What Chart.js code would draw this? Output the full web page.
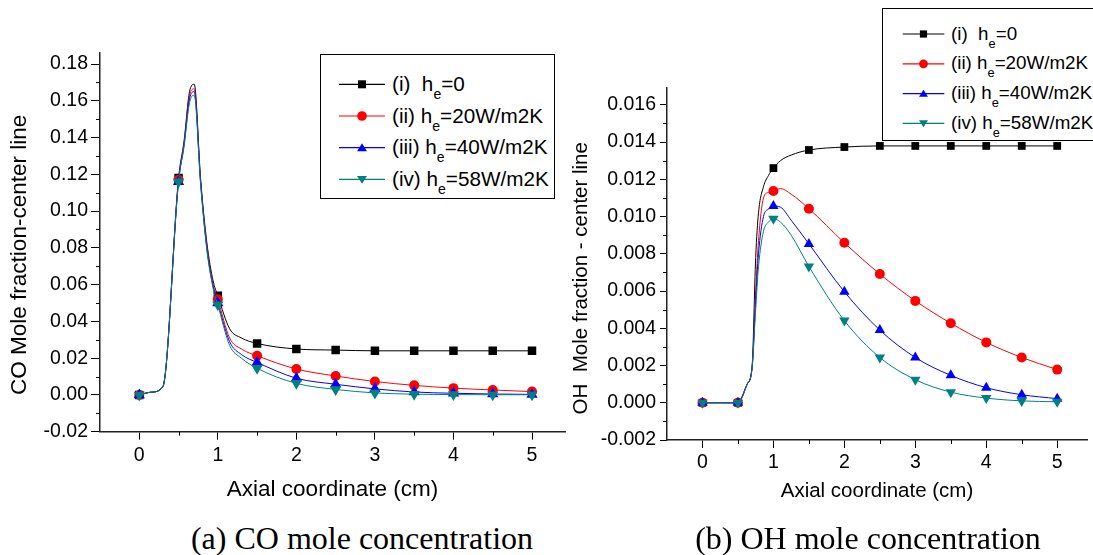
<!DOCTYPE html>
<html>
<head>
<meta charset="utf-8">
<script src="https://cdn.jsdelivr.net/npm/chart.js@4/dist/chart.umd.min.js"></script>
<style>
body { margin: 0; width: 1093px; height: 555px; background: #fff; position: relative; overflow: hidden; font-family: "Liberation Sans", Arial, sans-serif; }
.box { position: absolute; }
.legend { position: absolute; background: #fff; border: 1px solid #000; z-index: 5; }
.legend .row { position: absolute; left: 0; white-space: nowrap; color: #000; }
.legend svg { position: absolute; left: 0; top: 0; overflow: visible; }
.legend .sub { position: relative; top: 8px; font-size: 0.68em; }
.caption { position: absolute; width: 420px; text-align: center; font-family: "Liberation Serif", "Times New Roman", serif; font-size: 32px; line-height: 32px; color: #000; }
</style>
</head>
<body>
<div class="box" style="left:0;top:0;width:580px;height:510px"><canvas id="chartCO"></canvas></div>
<div class="box" style="left:560px;top:0;width:533px;height:510px"><canvas id="chartOH"></canvas></div>
<div class="legend" id="legendCO" style="left:320px;top:54px;width:233px;height:143px"></div>
<div class="legend" id="legendOH" style="left:882px;top:8px;width:230px;height:131px"></div>
<div class="caption" style="left:152px;top:522px">(a) CO mole concentration</div>
<div class="caption" style="left:658px;top:522px">(b) OH mole concentration</div>
<script>
// axial positions; markers sit on every 0.5 cm
var coX   = [0, 0.15, 0.3, 0.5, 0.57, 0.64, 0.7, 0.78, 0.86, 0.94, 1, 1.15, 1.3, 1.5, 2, 2.5, 3, 3.5, 4, 4.5, 5];
var coI   = [0, 0.0015, 0.0045, 0.118, 0.138, 0.165, 0.169, 0.118, 0.083, 0.062, 0.054, 0.036, 0.031, 0.028, 0.025, 0.0244, 0.024, 0.024, 0.024, 0.024, 0.024];
var coII  = [0, 0.0015, 0.0045, 0.117, 0.137, 0.163, 0.1665, 0.117, 0.081, 0.060, 0.052, 0.031, 0.025, 0.0213, 0.0141, 0.0103, 0.0073, 0.0052, 0.0037, 0.0027, 0.0018];
var coIII = [0, 0.0015, 0.0045, 0.116, 0.136, 0.161, 0.165, 0.116, 0.080, 0.059, 0.050, 0.029, 0.022, 0.0177, 0.0091, 0.0058, 0.0033, 0.0016, 0.0009, 0.0005, 0.0003];
var coIV  = [0, 0.0015, 0.0045, 0.116, 0.135, 0.159, 0.163, 0.115, 0.079, 0.058, 0.049, 0.027, 0.020, 0.0145, 0.0063, 0.0030, 0.0011, 0.0004, 0.0002, 0.0001, 0.0001];

// panel (b)
var ohX   = [0, 0.5, 0.63, 0.7, 0.75, 0.79, 0.86, 0.93, 1, 1.1, 1.25, 1.5, 2, 2.5, 3, 3.5, 4, 4.5, 5];
var ohI   = [0, 0, 0.001, 0.002, 0.0078, 0.0102, 0.0116, 0.0122, 0.0126, 0.0130, 0.0133, 0.01357, 0.01373, 0.01379, 0.01379, 0.01379, 0.01379, 0.01379, 0.01379];
var ohII  = [0, 0, 0.001, 0.0019, 0.0060, 0.0087, 0.0110, 0.0113, 0.01137, 0.0115, 0.0112, 0.01042, 0.00859, 0.00691, 0.00547, 0.00427, 0.00324, 0.00243, 0.00178];
var ohIII = [0, 0, 0.001, 0.0019, 0.0055, 0.0080, 0.0100, 0.0104, 0.01056, 0.0105, 0.0098, 0.00853, 0.00596, 0.0039, 0.00243, 0.00147, 0.00081, 0.00043, 0.00022];
var ohIV  = [0, 0, 0.001, 0.0019, 0.0050, 0.0073, 0.0092, 0.0097, 0.00988, 0.0097, 0.0090, 0.00732, 0.00441, 0.00243, 0.00124, 0.00057, 0.00025, 0.0001, 0.00005];

var xTicks    = [0, 1, 2, 3, 4, 5];
var coYTicks  = [-0.02, 0, 0.02, 0.04, 0.06, 0.08, 0.10, 0.12, 0.14, 0.16, 0.18];
var ohYTicks  = [-0.002, 0, 0.002, 0.004, 0.006, 0.008, 0.010, 0.012, 0.014, 0.016];

var seriesNames  = ['(i)&nbsp;&nbsp;h', '(ii) h', '(iii) h', '(iv) h'];
var seriesValues = ['=0', '=20W/m2K', '=40W/m2K', '=58W/m2K'];
var seriesColors = ['#000000', '#ff0000', '#0000ff', '#008080'];
var seriesMarkers = ['rect', 'circle', 'triangle', 'triangleDown'];

var FONT = '"Liberation Sans", Arial, sans-serif';

function midpoints(list) {
	var out = [];
	for (var i = 0; i < list.length - 1; i++) out.push((list[i] + list[i + 1]) / 2);
	return out;
}

function isMarker(x) {
	return Math.abs(x * 2 - Math.round(x * 2)) < 1e-6;
}

// Origin style minor ticks, drawn through the chart's own scales
var minorTicks = {
	id: 'minorTicks',
	afterDraw: function(chart, args, opts) {
		var ctx = chart.ctx, xs = chart.scales.x, ys = chart.scales.y;
		ctx.save();
		ctx.strokeStyle = '#000';
		ctx.lineWidth = 1;
		ctx.beginPath();
		opts.x.forEach(function(v) {
			var px = Math.round(xs.getPixelForValue(v)) + 0.5;
			ctx.moveTo(px, xs.top);
			ctx.lineTo(px, xs.top + opts.len);
		});
		opts.y.forEach(function(v) {
			var py = Math.round(ys.getPixelForValue(v)) + 0.5;
			ctx.moveTo(ys.right, py);
			ctx.lineTo(ys.right - opts.len, py);
		});
		ctx.stroke();
		ctx.restore();
	}
};

function buildDatasets(xs, seriesList, sizes) {
	return seriesList.map(function(ys, i) {
		var down = seriesMarkers[i] === 'triangleDown';
		return {
			data: xs.map(function(x, j) { return {x: x, y: ys[j]}; }),
			borderColor: seriesColors[i],
			backgroundColor: seriesColors[i],
			borderWidth: 1,
			pointStyle: down ? 'triangle' : seriesMarkers[i],
			pointRotation: down ? 180 : 0,
			pointRadius: function(ctx) { return ctx.raw && isMarker(ctx.raw.x) ? sizes[i] : 0; },
			pointBorderWidth: 0,
			pointHoverRadius: 0,
			cubicInterpolationMode: 'monotone',
			order: 3 - i
		};
	});
}

function buildChart(id, cfg) {
	return new Chart(document.getElementById(id).getContext('2d'), {
		type: 'line',
		data: { datasets: buildDatasets(cfg.xs, cfg.series, cfg.sizes) },
		plugins: [minorTicks],
		options: {
			responsive: true,
			maintainAspectRatio: false,
			animation: false,
			events: [],
			layout: { padding: cfg.padding },
			plugins: {
				legend: { display: false },
				tooltip: { enabled: false },
				minorTicks: { x: midpoints(xTicks), y: midpoints(cfg.yTicks), len: 4 }
			},
			scales: {
				x: {
					type: 'linear', min: -0.5, max: 5.42,
					afterBuildTicks: function(s) { s.ticks = xTicks.map(function(v) { return {value: v}; }); },
					afterFit: function(s) { s.height = cfg.xHeight; },
					grid: { drawOnChartArea: false, tickLength: 8, color: '#000' },
					border: { display: true, color: '#222', width: 1.5 },
					ticks: { color: '#000', padding: cfg.xTickPad, maxRotation: 0, autoSkip: false,
						font: { family: FONT, size: 19.5 },
						callback: function(v) { return String(v); } },
					title: { display: true, text: 'Axial coordinate (cm)', color: '#000',
						font: { family: FONT, size: cfg.titleSize, lineHeight: 1 },
						padding: { top: 0, bottom: cfg.xTitlePad } }
				},
				y: {
					type: 'linear', min: cfg.yMin, max: cfg.yMax,
					afterBuildTicks: function(s) { s.ticks = cfg.yTicks.map(function(v) { return {value: v}; }); },
					afterFit: function(s) { s.width = cfg.yWidth; },
					grid: { drawOnChartArea: false, tickLength: cfg.yTickLen, color: '#000' },
					border: { display: true, color: '#222', width: 1.5 },
					ticks: { color: '#000', padding: cfg.yTickPad, autoSkip: false,
						font: { family: FONT, size: 19.5 },
						callback: function(v) { return v.toFixed(cfg.digits); } },
					title: { display: true, text: cfg.yTitle, color: '#000',
						font: { family: FONT, size: cfg.yTitleSize, lineHeight: 1 },
						padding: { top: cfg.yTitlePad, bottom: 0 } }
				}
			}
		}
	});
}

function markerSvg(kind, color, cx, cy, r) {
	if (kind === 'rect') return '<rect x="' + (cx - r) + '" y="' + (cy - r) + '" width="' + 2 * r + '" height="' + 2 * r + '" fill="' + color + '"/>';
	if (kind === 'circle') return '<circle cx="' + cx + '" cy="' + cy + '" r="' + (r + 0.8) + '" fill="' + color + '"/>';
	var h = r * 1.1, w = r * 1.25;
	if (kind === 'triangle') return '<polygon points="' + cx + ',' + (cy - h) + ' ' + (cx + w) + ',' + (cy + h * 0.8) + ' ' + (cx - w) + ',' + (cy + h * 0.8) + '" fill="' + color + '"/>';
	return '<polygon points="' + cx + ',' + (cy + h) + ' ' + (cx + w) + ',' + (cy - h * 0.8) + ' ' + (cx - w) + ',' + (cy - h * 0.8) + '" fill="' + color + '"/>';
}

function buildLegend(id, lg) {
	var html = '';
	for (var i = 0; i < 4; i++) {
		var cy = lg.firstRow + i * lg.step;
		html += '<svg width="1" height="1">' +
			'<line x1="' + lg.lineFrom + '" y1="' + cy + '" x2="' + lg.lineTo + '" y2="' + cy + '" stroke="' + seriesColors[i] + '" stroke-width="1.2"/>' +
			markerSvg(seriesMarkers[i], seriesColors[i], (lg.lineFrom + lg.lineTo) / 2, cy, lg.marker) + '</svg>';
		html += '<div class="row" style="left:' + lg.textLeft + 'px;top:' + (cy - lg.font / 2) + 'px;font-size:' + lg.font + 'px;line-height:' + lg.font + 'px">' +
			seriesNames[i] + '<span class="sub">e</span>' + seriesValues[i] + '</div>';
	}
	document.getElementById(id).innerHTML = html;
}

// trailing spaces push the rotated title a little below the plot centre, as in the figure
buildChart('chartCO', {
	xs: coX, series: [coI, coII, coIII, coIV], sizes: [6, 5, 6.5, 6.5],
	padding: { top: 53, right: 15, left: 0, bottom: 0 },
	yMin: -0.02, yMax: 0.186, yTicks: coYTicks, digits: 2,
	yWidth: 100, xHeight: 78.3, xTickPad: 4, xTitlePad: 9,
	yTickLen: 9, yTickPad: 3, yTitlePad: 9, titleSize: 22.5, yTitleSize: 22.5,
	yTitle: 'CO Mole fraction-center line    '
});

buildChart('chartOH', {
	xs: ohX, series: [ohI, ohII, ohIII, ohIV], sizes: [5.5, 5, 6, 6],
	padding: { top: 88, right: 0, left: 0, bottom: 0 },
	yMin: -0.002, yMax: 0.0169, yTicks: ohYTicks, digits: 3,
	yWidth: 107, xHeight: 70, xTickPad: 3, xTitlePad: 8,
	yTickLen: 7, yTickPad: 4, yTitlePad: 11.5, titleSize: 20.5, yTitleSize: 20.5,
	yTitle: 'OH  Mole fraction - center line     '
});

buildLegend('legendCO', { firstRow: 29.3, step: 31.7, lineFrom: 18, lineTo: 64, textLeft: 71, font: 20.7, marker: 4 });
buildLegend('legendOH', { firstRow: 25, step: 29.8, lineFrom: 19.7, lineTo: 61.3, textLeft: 68, font: 18.8, marker: 3.6 });
</script>
</body>
</html>
